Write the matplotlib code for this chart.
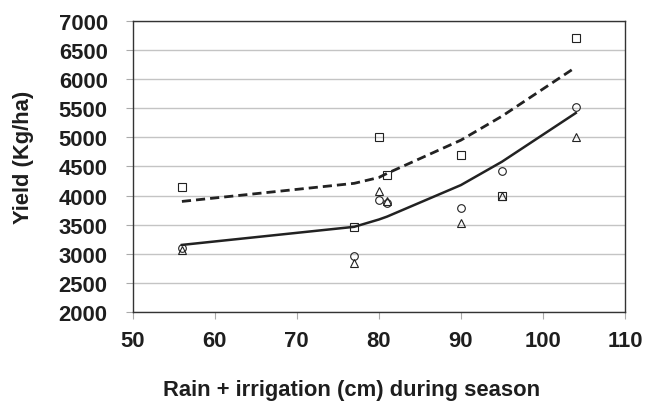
import matplotlib
matplotlib.use("Agg")
import matplotlib.pyplot as plt

# water applied (cm) and yields (Kg/ha)
water = [56, 77, 80, 81, 90, 95, 104]
yield_sq = [4150, 3470, 5000, 4360, 4700, 4000, 6700]
yield_circ = [3110, 2960, 3920, 3875, 3790, 4420, 5520]
yield_tri = [3070, 2850, 4075, 3900, 3530, 4000, 5000]
fit_dashed = [3900, 4210, 4310, 4380, 4950, 5360, 6200]
fit_solid = [3155, 3465, 3590, 3640, 4180, 4580, 5415]

xticks = [50, 60, 70, 80, 90, 100, 110]
yticks = list(range(2000, 7001, 500))

txt = "#1e1e1e"
plt.rcParams['font.family'] = ['Liberation Sans', 'DejaVu Sans']
plt.rcParams['font.weight'] = 'bold'

fig = plt.figure(figsize=(6.45, 4.02), dpi=100)
ax = fig.add_axes([0.2057, 0.2206, 0.7633, 0.7259])

ax.plot(water, fit_dashed, color="#222222", lw=2.0, ls=(0, (3.3, 1.8)), zorder=2)
ax.plot(water, fit_solid, color="#222222", lw=1.8, zorder=2)

mk = dict(ls="none", mfc="none", mec="#222222", mew=0.8, ms=5.5, zorder=3)
ax.plot(water, yield_sq, marker="s", **mk)
ax.plot(water, yield_circ, marker="o", **mk)
ax.plot(water, yield_tri, marker="^", **mk)

ax.set_xlim(50, 110)
ax.set_ylim(2000, 7000)
ax.set_xticks(xticks)
ax.set_yticks(yticks)
ax.grid(axis="y", color="#c4c4c4", lw=1.0, zorder=0)
ax.set_axisbelow(True)

for s in ax.spines.values():
    s.set_color("#333333")
    s.set_linewidth(1.0)

ax.tick_params(axis="both", colors="#aaaaaa", labelcolor=txt, labelsize=15.8,
               length=5, width=0.8)
ax.tick_params(axis="y", pad=13)
ax.tick_params(axis="x", pad=8)

ax.set_xlabel("Rain + irrigation (cm) during season", fontsize=15.8,
              fontweight="bold", color=txt)
ax.set_ylabel("Yield (Kg/ha)", fontsize=15.8, fontweight="bold", color=txt)
ax.xaxis.set_label_coords(0.444, -0.23)
ax.yaxis.set_label_coords(-0.243, 0.536)
ax.yaxis.label.set_va("top")

fig.savefig("out.png", dpi=100)
